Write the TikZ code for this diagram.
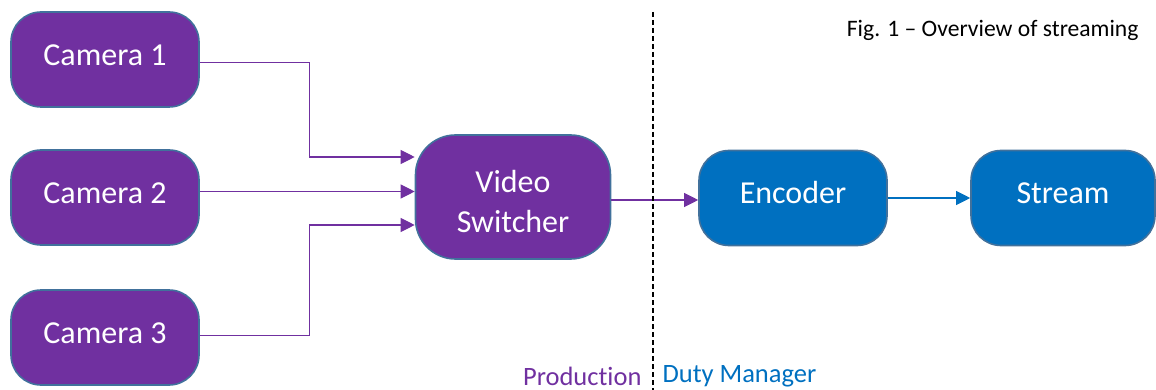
\documentclass[tikz,border=0pt]{standalone}
\usepackage{fontspec}
\setmainfont{Carlito}[Ligatures=NoCommon]
\usetikzlibrary{arrows.meta}
\definecolor{prodpurple}{HTML}{7030A0}
\definecolor{dutyblue}{HTML}{0070C0}
\definecolor{edgeblue}{HTML}{41719C}
\begin{document}
\begin{tikzpicture}[x=1pt, y=-1pt, >={Triangle[length=14pt,width=14pt]},
	box/.style={draw=edgeblue, line width=1.6pt, rounded corners=30pt, text=white,
		minimum width=188pt, minimum height=95pt, align=center,
		font=\fontsize{32}{40}\selectfont},
	onebox/.style={box, text height=22pt, text depth=10pt},
	prodbox/.style={onebox, fill=prodpurple},
	dutybox/.style={onebox, fill=dutyblue},
	feed/.style={->, prodpurple, line width=1.1pt},
	pushline/.style={->, dutyblue, line width=1.1pt}]
	\useasboundingbox (0,0) rectangle (1156,390);
	% production side
	\node[prodbox] (cam1) at (105,59.5) {Camera 1};
	\node[prodbox] (cam2) at (105,197.5) {Camera 2};
	\node[prodbox] (cam3) at (105,337.5) {Camera 3};
	\node[box, fill=prodpurple, minimum width=195pt, minimum height=124pt, rounded corners=40pt] (switch) at (513,197) {\rule{0pt}{31pt}Video\\Switcher};
	% duty manager side
	\node[dutybox] (enc) at (793,198) {Encoder};
	\node[dutybox, minimum width=184pt] (stream) at (1063,198) {Stream};
	\draw[feed] ([yshift=-3pt]cam1.east) -- ++(110,0) |- ([yshift=40pt]switch.west);
	\draw[feed] ([yshift=6pt]cam2.east) -- ([yshift=6pt]cam2.east -| switch.west);
	\draw[feed] ([yshift=2pt]cam3.east) -- ++(110,0) |- ([yshift=-28pt]switch.west);
	\draw[feed] ([yshift=-3pt]switch.east) -- ([yshift=-3pt]switch.east -| enc.west);
	\draw[pushline] (enc.east) -- (stream.west);
	% split line and labels
	\coordinate (top) at (653,12);
	\coordinate (bot) at (653,390);
	\draw[line width=1.3pt, dash pattern=on 5pt off 3pt] (top) -- (bot);
	\node[anchor=east, text=prodpurple, font=\fontsize{26.5}{30}\selectfont] (prod) at (645,376) {Production};
	\node[anchor=west, text=dutyblue, font=\fontsize{26.5}{30}\selectfont] (duty) at (659,376) {Duty Manager};
	\node[anchor=east, font=\fontsize{23.6}{28}\selectfont] (caption) at (1142,30) {Fig. 1 -- Overview of streaming};
\end{tikzpicture}
\end{document}
